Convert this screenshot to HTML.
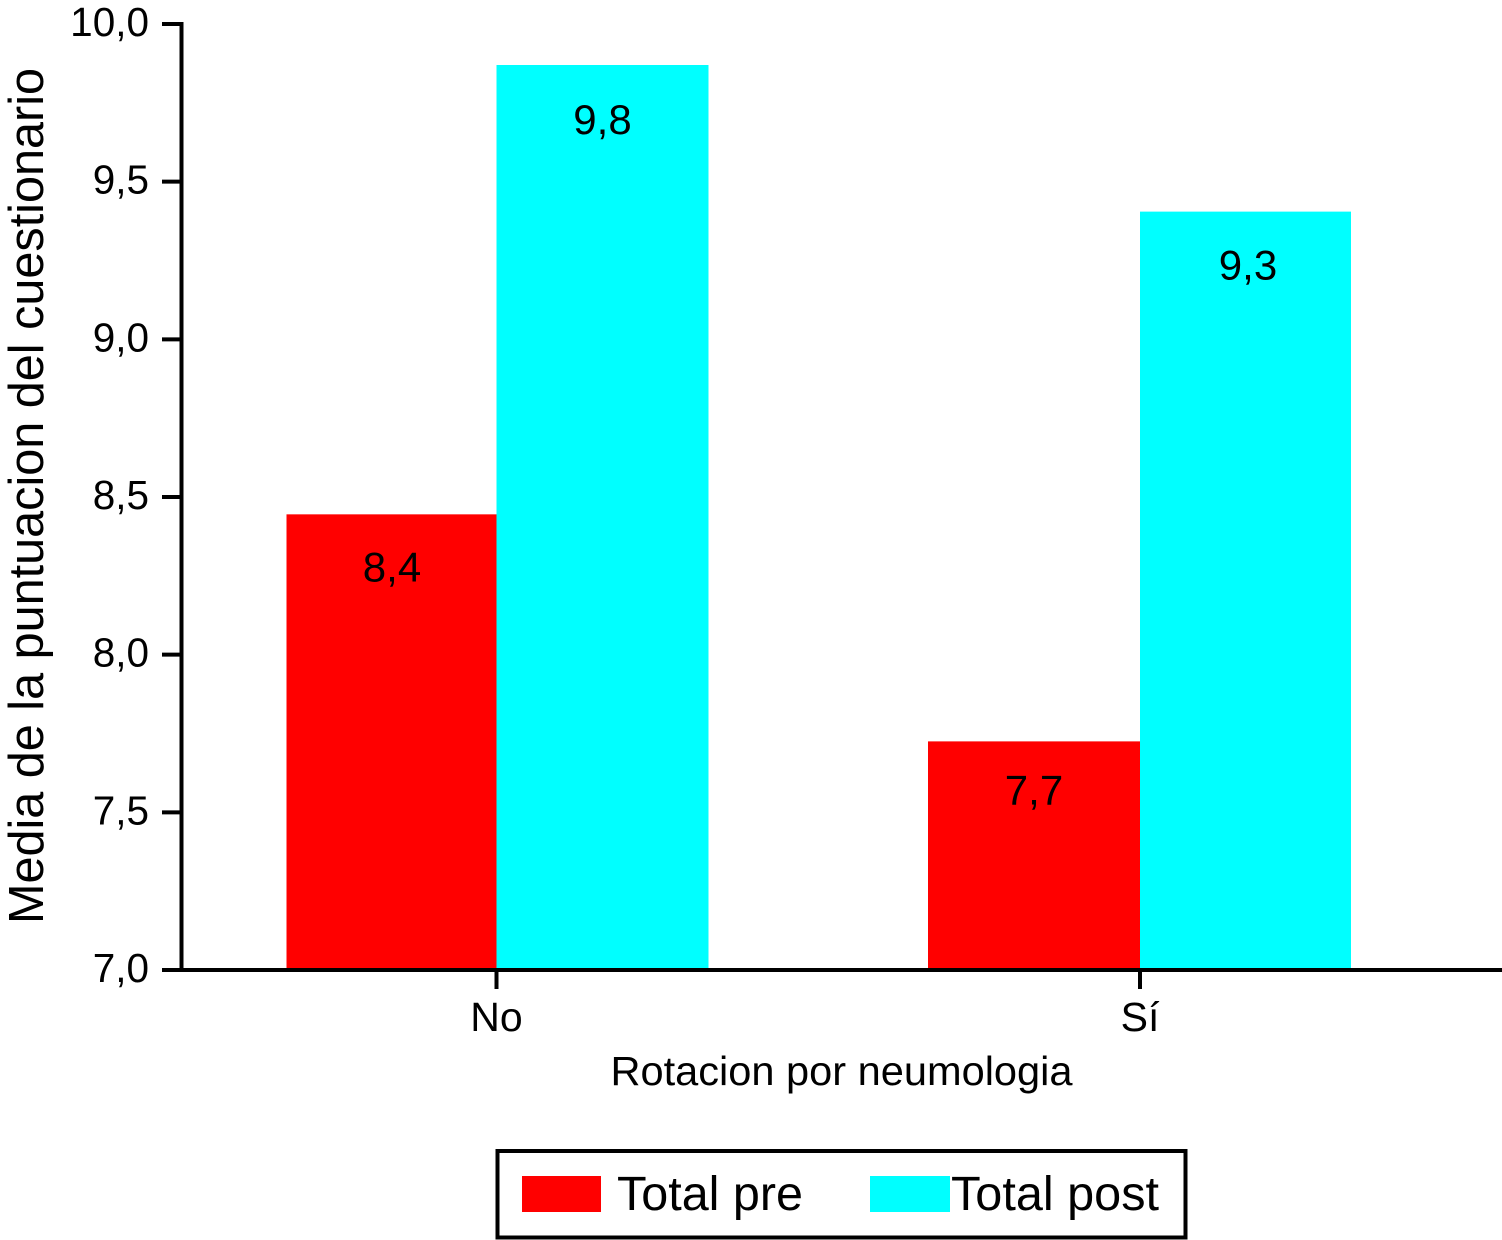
<!DOCTYPE html>
<html lang="es">
<head>
<meta charset="utf-8">
<title>Media de la puntuación del cuestionario</title>
<style>
html,body{margin:0;padding:0;background:#fff;width:1502px;height:1240px;overflow:hidden}
svg{display:block}
text{font-family:"Liberation Sans",Arial,sans-serif;fill:#000}
</style>
</head>
<body>
<svg id="chart" xmlns="http://www.w3.org/2000/svg" width="1502" height="1240" viewBox="0 0 1502 1240"></svg>
<script>
const categories = ["No", "Sí"];
const seriesNames = ["Total pre", "Total post"];
const totalPre = [8.445, 7.725];
const totalPost = [9.87, 9.405];
const totalPreLabels = ["8,4", "7,7"];
const totalPostLabels = ["9,8", "9,3"];
const yTicks = [7, 7.5, 8, 8.5, 9, 9.5, 10];
const yTickLabels = ["7,0", "7,5", "8,0", "8,5", "9,0", "9,5", "10,0"];

const svg = document.getElementById('chart');
const NS = 'http://www.w3.org/2000/svg';
const RED = '#ff0000';
const CYAN = '#00ffff';
const yScale = v => 970 - (v - 7) * (946 / 3);
const xScale = i => 496.5 + i * 643.5;

function make(tag, attrs, text) {
  const el = document.createElementNS(NS, tag);
  for (const k in attrs) el.setAttribute(k, attrs[k]);
  if (text !== undefined) el.textContent = text;
  svg.appendChild(el);
  return el;
}

categories.forEach((c, i) => {
  const cx = xScale(i);
  const preTop = yScale(totalPre[i]);
  const postTop = yScale(totalPost[i]);
  const preWidth = 210 + i * 2;
  const postWidth = 212 - i;

  const preBar = make('rect', {x: cx - preWidth, y: preTop, width: preWidth, height: 970 - preTop, fill: RED});
  
  

  const postBar = make('rect', {x: cx, y: postTop, width: postWidth, height: 970 - postTop, fill: CYAN});
  
  

  const preLabel = make('text', {x: cx - 104.5 - i * 1.5, y: preTop + 67 - i * 4, 'font-size': 42, 'text-anchor': 'middle'}, totalPreLabels[i]);
  
  

  const postLabel = make('text', {x: cx + 106 + i * 2, y: postTop + 69 - i, 'font-size': 42, 'text-anchor': 'middle'}, totalPostLabels[i]);
  
  

  const tick = make('line', {x1: cx, x2: cx, y1: 970, y2: 989, stroke: '#000', 'stroke-width': 4});
  
  

  const tickLabel = make('text', {x: cx, y: 1031, 'font-size': 41, 'text-anchor': 'middle'}, c);
  
  
});

const yAxis = make('line', {x1: 181.5, x2: 181.5, y1: 22, y2: 972, stroke: '#000', 'stroke-width': 4});



const xAxis = make('line', {x1: 162, x2: 1502, y1: 970, y2: 970, stroke: '#000', 'stroke-width': 4});



yTicks.forEach((v, i) => {
  const y = yScale(v);
  const tick = make('line', {x1: 162, x2: 182, y1: y, y2: y, stroke: '#000', 'stroke-width': 4});
  
  

  const label = make('text', {x: 149, y: y + 12, 'font-size': 40.5, 'text-anchor': 'end'}, yTickLabels[i]);
  
  
});

const yTitle = make('text', {x: 0, y: 0, 'font-size': 49, 'text-anchor': 'middle', textLength: 856, lengthAdjust: 'spacingAndGlyphs', transform: 'translate(43 496) rotate(-90)'}, 'Media de la puntuacion del cuestionario');



const xTitle = make('text', {x: 841.5, y: 1085, 'font-size': 41, 'text-anchor': 'middle', textLength: 462, lengthAdjust: 'spacingAndGlyphs'}, 'Rotacion por neumologia');



const legendBox = make('rect', {x: 497.5, y: 1151, width: 688, height: 86.5, fill: '#fff', stroke: '#000', 'stroke-width': 4});



const preSwatch = make('rect', {x: 522, y: 1176, width: 79, height: 36, fill: RED});



const preText = make('text', {x: 617, y: 1210, 'font-size': 48, textLength: 186, lengthAdjust: 'spacingAndGlyphs'}, seriesNames[0]);



const postSwatch = make('rect', {x: 870, y: 1176, width: 80, height: 36, fill: CYAN});



const postText = make('text', {x: 951, y: 1210, 'font-size': 48, textLength: 208, lengthAdjust: 'spacingAndGlyphs'}, seriesNames[1]);


</script>
</body>
</html>
